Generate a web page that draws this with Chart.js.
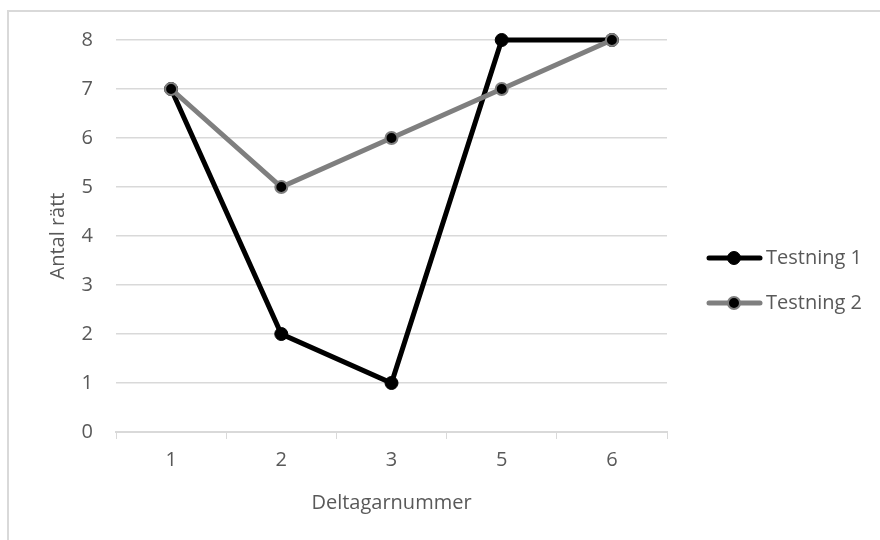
<!DOCTYPE html>
<html>
<head>
<meta charset="utf-8">
<script src="https://cdn.jsdelivr.net/npm/chart.js@4/dist/chart.umd.min.js"></script>
<style>
    html, body { margin: 0; padding: 0; background: #fff; }
    #wrap { width: 880px; height: 540px; }
</style>
</head>
<body>
<div id="wrap"><canvas id="lineChart" width="880" height="540"></canvas></div>
<script>
var labels = ['1', '2', '3', '5', '6'];
var testning1 = [7, 2, 1, 8, 8];
var testning2 = [7, 5, 6, 7, 8];
var seriesNames = ['Testning 1', 'Testning 2'];
var yTicks = [0, 1, 2, 3, 4, 5, 6, 7, 8];

var textColor = '#595959';
var gridColor = '#d9d9d9';
var fontFamily = '"Open Sans", sans-serif';

// ram runt diagrammet
var framePlugin = {
    id: 'frame',
    beforeDraw: function (chart) {
        var ctx = chart.ctx;
        ctx.save();
        ctx.strokeStyle = gridColor;
        ctx.lineWidth = 2;
        ctx.beginPath();
        ctx.moveTo(8, 540);
        ctx.lineTo(8, 11);
        ctx.lineTo(880, 11);
        ctx.stroke();
        ctx.restore();
    }
};

// legend till höger, linje med markör i mitten
var legendPlugin = {
    id: 'sideLegend',
    afterDraw: function (chart) {
        var ctx = chart.ctx;
        var rows = [258, 303];
        ctx.save();
        chart.data.datasets.forEach(function (ds, i) {
            var y = rows[i];
            ctx.strokeStyle = ds.borderColor;
            ctx.lineWidth = ds.borderWidth;
            ctx.lineCap = 'round';
            ctx.beginPath();
            ctx.moveTo(709, y);
            ctx.lineTo(760, y);
            ctx.stroke();
            ctx.beginPath();
            ctx.arc(734, y, ds.pointRadius, 0, Math.PI * 2);
            ctx.fillStyle = ds.pointBackgroundColor;
            ctx.fill();
            ctx.lineWidth = ds.pointBorderWidth;
            ctx.strokeStyle = ds.pointBorderColor;
            ctx.stroke();
            ctx.fillStyle = textColor;
            ctx.font = '20px ' + fontFamily;
            ctx.textBaseline = 'middle';
            ctx.textAlign = 'left';
            ctx.fillText(ds.label, 766, y);
        });
        ctx.restore();
    }
};

var ctx = document.getElementById('lineChart').getContext('2d');
new Chart(ctx, {
    type: 'line',
    data: {
        labels: labels,
        datasets: [{
            label: seriesNames[0],
            data: testning1,
            borderColor: '#000000',
            borderWidth: 5,
            pointRadius: 6.5,
            pointBackgroundColor: '#000000',
            pointBorderColor: '#000000',
            pointBorderWidth: 1,
            tension: 0,
            clip: false,
            order: 1
        }, {
            label: seriesNames[1],
            data: testning2,
            borderColor: '#7f7f7f',
            borderWidth: 5,
            pointRadius: 6,
            pointBackgroundColor: '#000000',
            pointBorderColor: '#7f7f7f',
            pointBorderWidth: 2,
            tension: 0,
            clip: false,
            order: 0
        }]
    },
    options: {
        responsive: false,
        animation: false,
        layout: {padding: {top: 40, right: 213, left: 0, bottom: 0}},
        scales: {
            x: {
                type: 'category',
                offset: true,
                grid: {
                    offset: true,
                    drawOnChartArea: false,
                    drawTicks: true,
                    tickLength: 7,
                    color: gridColor
                },
                border: {display: true, color: gridColor, width: 2},
                ticks: {color: textColor, font: {family: fontFamily, size: 20}, padding: 9, maxRotation: 0},
                title: {
                    display: true,
                    text: 'Deltagarnummer',
                    color: textColor,
                    font: {family: fontFamily, size: 20},
                    padding: {top: 0, bottom: 25}
                },
                afterFit: function (scale) { scale.height = 108; }
            },
            y: {
                min: 0,
                max: 8,
                afterBuildTicks: function (scale) {
                    scale.ticks = yTicks.map(function (v) { return {value: v}; });
                },
                grid: {color: gridColor, lineWidth: 1.5, drawTicks: false},
                border: {display: false},
                ticks: {color: textColor, font: {family: fontFamily, size: 20}, padding: 23},
                title: {
                    display: true,
                    text: 'Antal rätt',
                    color: textColor,
                    font: {family: fontFamily, size: 20},
                    padding: {top: 46, bottom: 0}
                },
                afterFit: function (scale) { scale.width = 116; }
            }
        },
        plugins: {
            legend: {display: false},
            tooltip: {enabled: false}
        }
    },
    plugins: [framePlugin, legendPlugin]
});
</script>
</body>
</html>
